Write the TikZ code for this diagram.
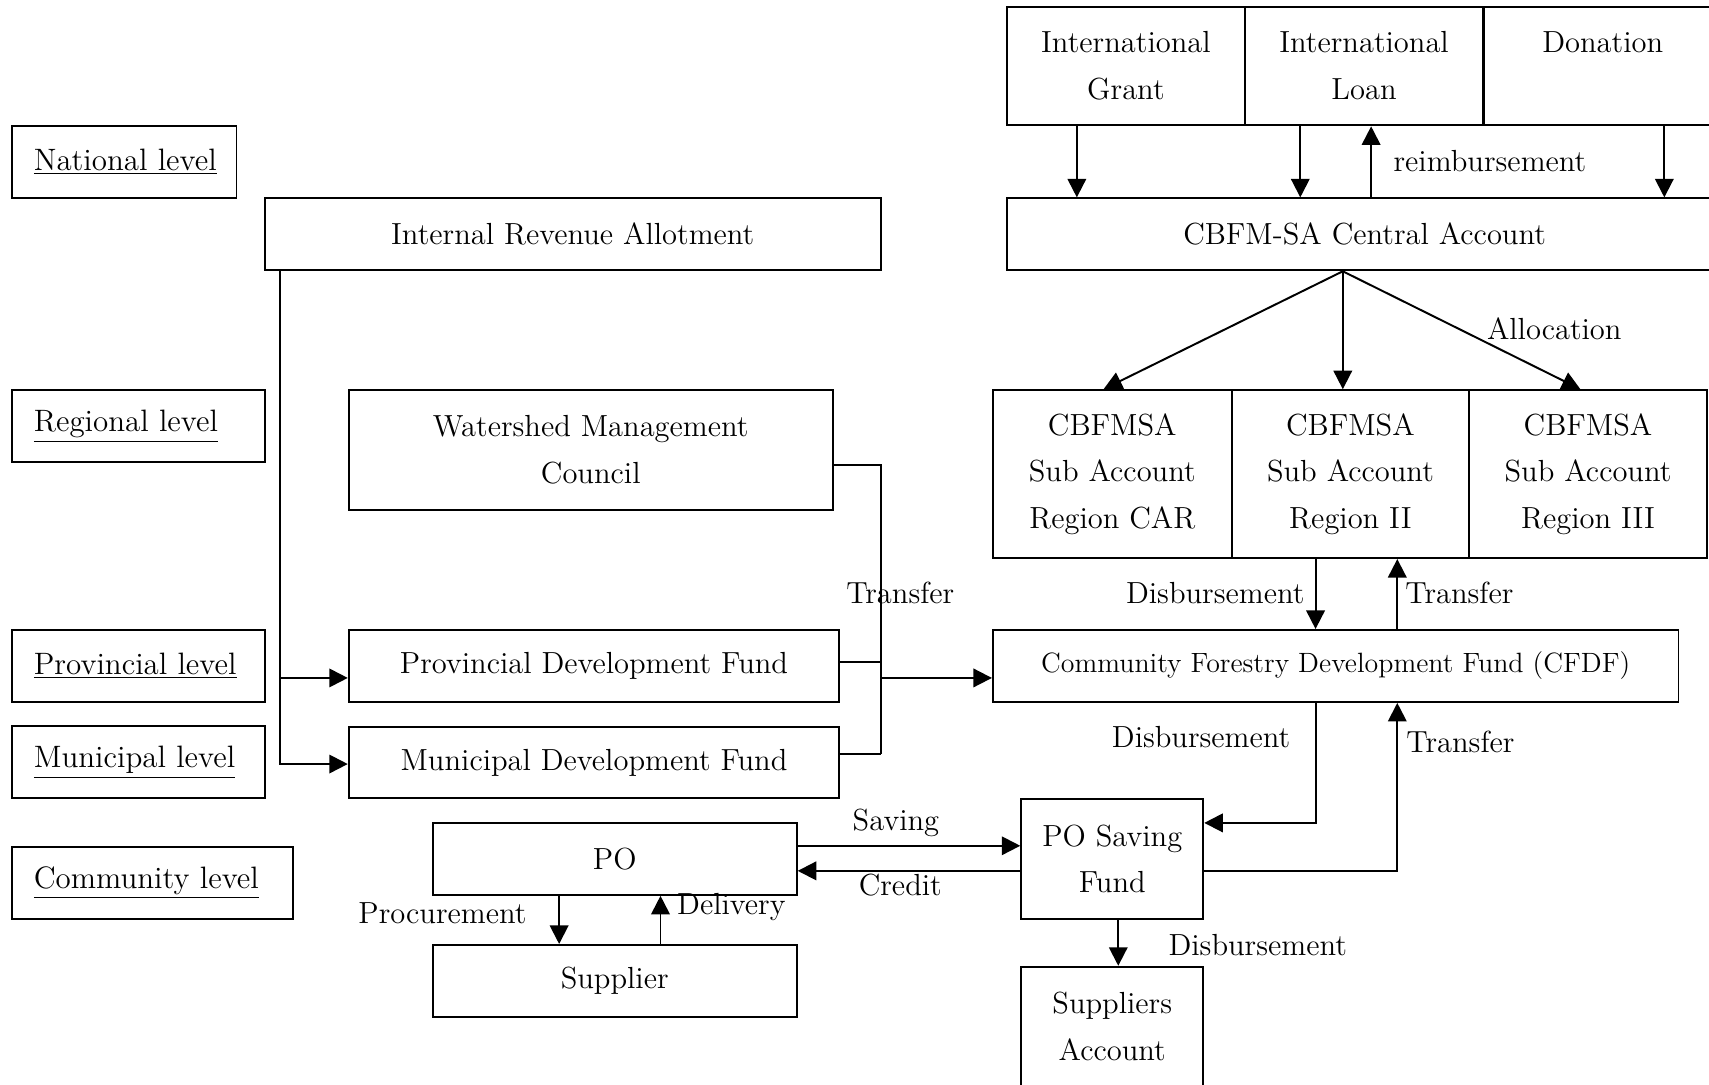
\documentclass[tikz,border=0pt]{standalone}
\usetikzlibrary{arrows.meta}
\begin{document}
\begin{tikzpicture}[x=0.5pt,y=-0.5pt,
  font=\fontsize{14}{21.5}\selectfont,
  box/.style={draw,line width=0.9pt,inner sep=0pt,align=center},
  lvl/.style={draw,line width=0.9pt,inner xsep=10pt,inner ysep=0pt,align=left,minimum height=33pt,font=\fontsize{14.2}{21.5}\selectfont},
  arr/.style={line width=0.9pt,-{Triangle[length=8.5pt,width=8.5pt]}},
  ln/.style={line width=0.9pt},
  lab/.style={inner sep=0pt}]
\useasboundingbox (0,0) rectangle (1568,995);
\clip (0,0) rectangle (1568,995);

% helper coordinates
\coordinate (xa) at (988,0);
\coordinate (xb) at (1193,0);
\coordinate (xc) at (1258,0);
\coordinate (xd) at (1527,0);
\coordinate (xal) at (1232,0);
\coordinate (xd1) at (1207,0);
\coordinate (xt1) at (1282,0);
\coordinate (xs) at (1026,0);
\coordinate (xp) at (513,0);
\coordinate (xdl) at (606,0);
\coordinate (xv) at (257,0);
\coordinate (xt) at (808,0);
\coordinate (y1) at (0,755);
\coordinate (y2) at (0,799);
\coordinate (y3) at (0,776);
\coordinate (yp) at (0,622);
\coordinate (ym) at (0,701);
\coordinate (yw) at (0,427);
\coordinate (ypp) at (0,607);
\coordinate (ymm) at (0,692);

% level labels
\node[lvl,text width=83pt] (nat) at (114,148.5) {\underline{National level}};
\node[lvl,text width=96pt] (reg) at (127,391) {\underline{Regional level}};
\node[lvl,text width=96pt] (prv) at (127,611) {\underline{Provincial level}};
\node[lvl,text width=96pt] (mun) at (127,699.5) {\underline{Municipal level}};
\node[lvl,text width=109pt] (com) at (140,810) {\underline{Community level}};

% top sources
\node[box,minimum width=109pt,minimum height=54.5pt] (grant) at (1033,60.5) {International\\Grant};
\node[box,minimum width=109.5pt,minimum height=54.5pt] (loan) at (1251.5,60.5) {International\\Loan};
\node[box,minimum width=109pt,minimum height=54.5pt] (don) at (1470.5,60.5) {Donation\\~};
\node[box,minimum width=328pt,minimum height=33pt] (central) at (1252,215) {CBFM-SA Central Account};

\draw[arr] (grant.south -| xa) -- (central.north -| xa);
\draw[arr] (loan.south -| xb) -- (central.north -| xb);
\draw[arr] (central.north -| xc) -- (loan.south -| xc);
\draw[arr] (don.south -| xd) -- (central.north -| xd);
\node[lab] (reimb) at (1367,148) {reimbursement};

% sub accounts
\node[box,minimum width=109.5pt,minimum height=77pt] (car) at (1020.5,435) {CBFMSA\\Sub Account\\Region CAR};
\node[box,minimum width=109pt,minimum height=77pt] (r2) at (1239,435) {CBFMSA\\Sub Account\\Region II};
\node[box,minimum width=109pt,minimum height=77pt] (r3) at (1457,435) {CBFMSA\\Sub Account\\Region III};

\draw[arr] (central.south -| xal) -- ([xshift=-4pt]car.north);
\draw[arr] (central.south -| xal) -- (r2.north -| xal);
\draw[arr] (central.south -| xal) -- ([xshift=-3.5pt]r3.north);
\node[lab] (allocl) at (1426,302) {Allocation};

% CFDF
\node[box,minimum width=314.5pt,minimum height=33pt,font=\fontsize{12.8}{21.5}\selectfont] (cfdf) at (1225.5,611) {Community Forestry Development Fund (CFDF)};
\draw[arr] (r2.south -| xd1) -- (cfdf.north -| xd1);
\draw[arr] (cfdf.north -| xt1) -- (r2.south -| xt1);
\node[lab] (disb1) at (1115,544) {Disbursement};
\node[lab] (tr1) at (1339,544) {Transfer};

% PO saving fund
\node[box,minimum width=83.5pt,minimum height=55pt] (posf) at (1020.5,788) {PO Saving\\Fund};
\draw[arr] (cfdf.south -| xd1) |- (posf.east |- y1);
\draw[arr] (posf.east |- y2) -| (cfdf.south -| xt1);
\node[lab] (disb2) at (1102,676) {Disbursement};
\node[lab] (tr2) at (1340,681) {Transfer};

% suppliers account
\node[box,minimum width=83.5pt,minimum height=55pt] (sacc) at (1020.5,942) {Suppliers\\Account};
\draw[arr] (posf.south -| xs) -- (sacc.north -| xs);
\node[lab] (disb3) at (1154,867) {Disbursement};

% PO and supplier
\node[box,minimum width=167pt,minimum height=33pt] (po) at (564,788) {PO};
\node[box,minimum width=167pt,minimum height=33pt] (sup) at (564,900) {Supplier};
\draw[arr] (po.east |- y3) -- (posf.west |- y3);
\draw[arr] (posf.west |- y2) -- (po.east |- y2);
\node[lab] (sav) at (822,755) {Saving};
\node[lab] (cred) at (826,812) {Credit};
\draw[arr] (po.south -| xp) -- (sup.north -| xp);
\draw[arr] (sup.north -| xdl) -- (po.south -| xdl);
\node[lab] (proc) at (406,838) {Procurement};
\node[lab] (deliv) at (671,832) {Delivery};

% local government
\node[box,minimum width=282.5pt,minimum height=33pt] (ira) at (525.5,215) {Internal Revenue Allotment};
\node[box,minimum width=222pt,minimum height=55pt] (wmc) at (542,413) {Watershed Management\\Council};
\node[box,minimum width=225pt,minimum height=33pt] (pdf) at (545,611) {Provincial Development Fund};
\node[box,minimum width=225pt,minimum height=32.5pt] (mdf) at (545,699.5) {Municipal Development Fund};

\draw[arr] (ira.south -| xv) |- (mdf.west |- ym);
\draw[arr] (xv |- yp) -- (pdf.west |- yp);

\draw[ln] (wmc.east |- yw) -- (xt |- yw) -- (xt |- ymm);
\draw[ln] (pdf.east |- ypp) -- (xt |- ypp);
\draw[ln] (mdf.east |- ymm) -- (xt |- ymm);
\draw[arr] (xt |- yp) -- (cfdf.west |- yp);
\node[lab] (tr3) at (826,544) {Transfer};
\end{tikzpicture}
\end{document}
